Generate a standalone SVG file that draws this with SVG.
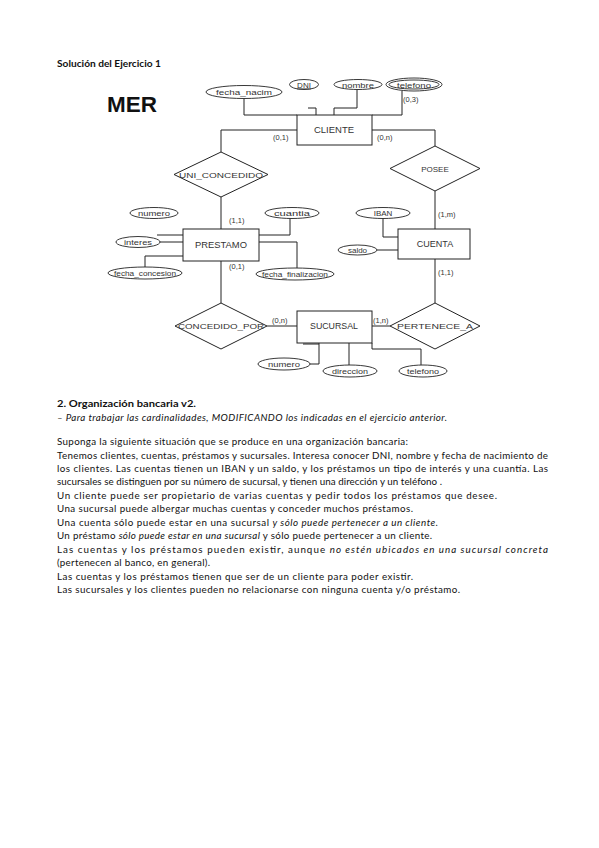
<svg xmlns="http://www.w3.org/2000/svg" width="599" height="848" viewBox="0 0 599 848">
<style>
.bg{fill:#fff}
.ln{fill:none;stroke:#222;stroke-width:1}
.box{fill:#fff;stroke:#222;stroke-width:1}
.at{fill:#fff;stroke:#222;stroke-width:0.9}
.ent{font-family:"Liberation Sans",Arial,sans-serif;font-size:9px;fill:#333;text-anchor:middle}
.att{font-family:"Liberation Sans",Arial,sans-serif;font-size:8px;fill:#333;text-anchor:middle}
.rel{font-family:"Liberation Sans",Arial,sans-serif;font-size:8px;fill:#333;text-anchor:middle}
.card{font-family:"Liberation Sans",Arial,sans-serif;font-size:7.5px;fill:#333}
.doc{font-family:Lato,"Noto Sans",sans-serif;font-size:9.8px;fill:#111}
.it{font-style:italic}
</style>
<rect class="bg" x="0" y="0" width="599" height="848"/>

<text class="doc" x="57" y="67" font-weight="bold" font-size="9.5" textLength="104" lengthAdjust="spacingAndGlyphs">Solución del Ejercicio 1</text>
<text x="107" y="112" font-family="'Liberation Sans',Arial,sans-serif" font-weight="bold" font-size="22" fill="#111" textLength="50" lengthAdjust="spacingAndGlyphs">MER</text>

<g id="connectors">
<path class="ln" d="M244,98.5 V115 H297"/>
<path class="ln" d="M308,108 H316 V115"/>
<path class="ln" d="M357,89.5 V108 H334 V115"/>
<path class="ln" d="M402,91 V115 H372"/>
<path class="ln" d="M297,130 H221 V152"/>
<path class="ln" d="M221,197 V229"/>
<path class="ln" d="M372,130 H435 V146"/>
<path class="ln" d="M435,191 V229"/>
<path class="ln" d="M221,261 V303"/>
<path class="ln" d="M267,326 H297"/>
<path class="ln" d="M435,259 V303"/>
<path class="ln" d="M372,326 H390"/>
<path class="ln" d="M383,218.5 V237 H398"/>
<path class="ln" d="M377,250 H398"/>
<path class="ln" d="M157,235 H183"/>
<path class="ln" d="M160,242 H183"/>
<path class="ln" d="M145,267 V256 H183"/>
<path class="ln" d="M259,235 H290 V218.5"/>
<path class="ln" d="M259,242 H297 V268"/>
<path class="ln" d="M310,364 H319 V343"/>
<path class="ln" d="M303,344 H319" stroke-width="1.6"/>
<path class="ln" d="M349,343 V365"/>
<path class="ln" d="M372,343 V349 H421 V365"/>
</g>

<g id="cliente">
<rect class="box" x="297" y="115" width="75" height="30"/>
<text class="ent" x="334" y="133" font-size="8" textLength="40" lengthAdjust="spacingAndGlyphs">CLIENTE</text>
<text class="card" x="273" y="140">(0,1)</text>
<text class="card" x="377" y="140">(0,n)</text>
</g>
<g id="attr-fecha-nacim">
<ellipse class="at" cx="244" cy="92" rx="38" ry="6.5"/>
<text class="att" x="244" y="95" textLength="56" lengthAdjust="spacingAndGlyphs">fecha_nacim</text>
</g>
<g id="attr-dni">
<ellipse class="at" cx="304" cy="84.5" rx="14.5" ry="5"/>
<text class="att" x="304" y="87.5" text-decoration="underline">DNI</text>
</g>
<g id="attr-nombre">
<ellipse class="at" cx="358" cy="84.5" rx="24" ry="5"/>
<text class="att" x="358" y="87.5" textLength="32" lengthAdjust="spacingAndGlyphs">nombre</text>
</g>
<g id="attr-telefono-c">
<ellipse class="at" cx="414" cy="84.5" rx="28" ry="6.5"/>
<ellipse class="at" cx="414" cy="84.5" rx="25" ry="4.5"/>
<text class="att" x="414" y="87.5" textLength="34" lengthAdjust="spacingAndGlyphs">telefono</text>
<text class="card" x="403" y="102">(0,3)</text>
</g>

<g id="uni-concedido">
<polygon class="box" points="221,152 268,174.5 221,197 174,174.5"/>
<text class="rel" x="221" y="177.5" textLength="84" lengthAdjust="spacingAndGlyphs">UNI_CONCEDIDO</text>
</g>
<g id="posee">
<polygon class="box" points="435,146 480,168.5 435,191 390,168.5"/>
<text class="rel" x="435" y="171.5" font-size="9">POSEE</text>
</g>

<g id="prestamo">
<rect class="box" x="183" y="229" width="76" height="32"/>
<text class="ent" x="221" y="248" textLength="52" lengthAdjust="spacingAndGlyphs">PRESTAMO</text>
<text class="card" x="229" y="223">(1,1)</text>
<text class="card" x="229" y="269">(0,1)</text>
</g>
<g id="attr-numero-p">
<ellipse class="at" cx="154" cy="213" rx="24" ry="5.5"/>
<text class="att" x="154" y="216" textLength="32" lengthAdjust="spacingAndGlyphs">numero</text>
</g>
<g id="attr-interes">
<ellipse class="at" cx="138" cy="242" rx="22" ry="5.5"/>
<text class="att" x="138" y="245" textLength="28" lengthAdjust="spacingAndGlyphs">interes</text>
</g>
<g id="attr-fecha-concesion">
<ellipse class="at" cx="145" cy="273" rx="37" ry="6"/>
<text class="att" x="145" y="276" textLength="62" lengthAdjust="spacingAndGlyphs">fecha_concesion</text>
</g>
<g id="attr-cuantia">
<ellipse class="at" cx="292" cy="213" rx="27" ry="5.5"/>
<text class="att" x="292" y="216" textLength="36" lengthAdjust="spacingAndGlyphs">cuantia</text>
</g>
<g id="attr-fecha-finalizacion">
<ellipse class="at" cx="295" cy="274" rx="39" ry="6"/>
<text class="att" x="295" y="277" textLength="66" lengthAdjust="spacingAndGlyphs">fecha_finalizacion</text>
</g>

<g id="cuenta">
<rect class="box" x="398" y="229" width="72" height="30"/>
<text class="ent" x="435" y="247">CUENTA</text>
<text class="card" x="438" y="217">(1,m)</text>
<text class="card" x="438" y="275">(1,1)</text>
</g>
<g id="attr-iban">
<ellipse class="at" cx="383" cy="213" rx="27" ry="5.5"/>
<text class="att" x="383" y="216">IBAN</text>
</g>
<g id="attr-saldo">
<ellipse class="at" cx="357.5" cy="250" rx="19.5" ry="5"/>
<text class="att" x="357.5" y="253">saldo</text>
</g>

<g id="concedido-por">
<polygon class="box" points="221,303 267,326 221,349 175,326"/>
<text class="rel" x="221" y="329" textLength="86" lengthAdjust="spacingAndGlyphs">CONCEDIDO_POR</text>
</g>
<g id="pertenece-a">
<polygon class="box" points="435,303 480,326 435,349 390,326"/>
<text class="rel" x="435" y="329" textLength="76" lengthAdjust="spacingAndGlyphs">PERTENECE_A</text>
</g>

<g id="sucursal">
<rect class="box" x="297" y="311" width="75" height="32"/>
<text class="ent" x="334" y="329" font-size="8" textLength="48" lengthAdjust="spacingAndGlyphs">SUCURSAL</text>
<text class="card" x="272" y="323">(0,n)</text>
<text class="card" x="373" y="323">(1,n)</text>
</g>
<g id="attr-numero-s">
<ellipse class="at" cx="284" cy="364" rx="26" ry="6"/>
<text class="att" x="284" y="367" textLength="32" lengthAdjust="spacingAndGlyphs">numero</text>
</g>
<g id="attr-direccion">
<ellipse class="at" cx="350" cy="371" rx="27" ry="6"/>
<text class="att" x="350" y="374" textLength="36" lengthAdjust="spacingAndGlyphs">direccion</text>
</g>
<g id="attr-telefono-s">
<ellipse class="at" cx="423" cy="371" rx="24" ry="6"/>
<text class="att" x="423" y="374" textLength="32" lengthAdjust="spacingAndGlyphs">telefono</text>
</g>

<text class="doc" x="57" y="407" font-weight="bold" font-size="11" textLength="139" lengthAdjust="spacingAndGlyphs">2. Organización bancaria v2.</text>
<text class="doc it" x="57" y="421" font-size="9.5" textLength="390" lengthAdjust="spacing">– Para trabajar las cardinalidades, MODIFICANDO los indicadas en el ejercicio anterior.</text>

<text class="doc" x="57" y="445" textLength="351" lengthAdjust="spacing">Suponga la siguiente situación que se produce en una organización bancaria:</text>
<text class="doc" x="57" y="458.5" textLength="491" lengthAdjust="spacing">Tenemos clientes, cuentas, préstamos y sucursales. Interesa conocer DNI, nombre y fecha de nacimiento de</text>
<text class="doc" x="57" y="472" textLength="491" lengthAdjust="spacing">los clientes. Las cuentas tienen un IBAN y un saldo, y los préstamos un tipo de interés y una cuantía. Las</text>
<text class="doc" x="57" y="485.4" textLength="385" lengthAdjust="spacing">sucursales se distinguen por su número de sucursal, y tienen una dirección y un teléfono .</text>
<text class="doc" x="57" y="498.8" textLength="440" lengthAdjust="spacing">Un cliente puede ser propietario de varias cuentas y pedir todos los préstamos que desee.</text>
<text class="doc" x="57" y="512.3" textLength="356" lengthAdjust="spacing">Una sucursal puede albergar muchas cuentas y conceder muchos préstamos.</text>
<text class="doc" x="57" y="525.7" textLength="381" lengthAdjust="spacing">Una cuenta sólo puede estar en una sucursal <tspan class="it">y sólo puede pertenecer a un cliente.</tspan></text>
<text class="doc" x="57" y="539.2" textLength="375" lengthAdjust="spacing">Un préstamo <tspan class="it">sólo puede estar en una sucursal</tspan> y sólo puede pertenecer a un cliente.</text>
<text class="doc" x="57" y="552.6" textLength="491" lengthAdjust="spacing">Las cuentas y los préstamos pueden existir, aunque <tspan class="it">no estén ubicados en una sucursal concreta</tspan></text>
<text class="doc" x="57" y="566.1" textLength="153" lengthAdjust="spacing">(pertenecen al banco, en general).</text>
<text class="doc" x="57" y="579.5" textLength="356" lengthAdjust="spacing">Las cuentas y los préstamos tienen que ser de un cliente para poder existir.</text>
<text class="doc" x="57" y="593" textLength="403" lengthAdjust="spacing">Las sucursales y los clientes pueden no relacionarse con ninguna cuenta y/o préstamo.</text>
</svg>
